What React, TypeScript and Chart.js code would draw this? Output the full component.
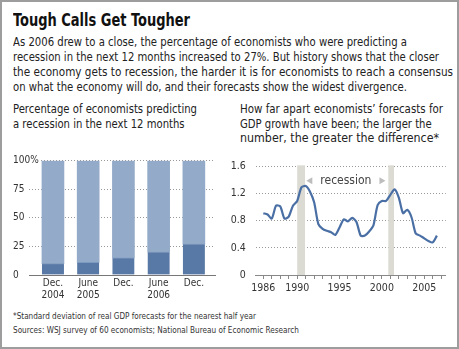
import React, { useEffect, useLayoutEffect, useRef } from 'react';
import { Chart, registerables } from 'chart.js';

Chart.register(...registerables);

const FONT = "'Liberation Sans Narrow', 'DejaVu Sans Condensed', Roboto, 'Liberation Sans', sans-serif";

// ---- Left chart data ----
const barLabels: (string | string[])[] = [['Dec.', '2004'], ['June', '2005'], 'Dec.', ['June', '2006'], 'Dec.'];
const predictingRecession = [10, 11, 15, 20, 27];
const notPredicting = [90, 89, 85, 80, 73];
const barYTickLabels = ['0', '25', '50', '75', '100%'];

// ---- Right chart data ----
const gdpDates = [
  1986, 1986.5, 1987, 1987.5, 1988, 1988.5, 1989, 1989.5, 1990, 1990.5,
  1991, 1991.5, 1992, 1992.5, 1993, 1993.5, 1994, 1994.5, 1995, 1995.5,
  1996, 1996.5, 1997, 1997.5, 1998, 1998.5, 1999, 1999.5, 2000, 2000.5,
  2001, 2001.5, 2002, 2002.5, 2003, 2003.5, 2004, 2004.5, 2005, 2005.5,
  2006, 2006.5,
];
const gdpDispersion = [
  0.91, 0.89, 0.83, 1.02, 1.01, 0.83, 0.86, 1.02, 1.09, 1.29,
  1.31, 1.23, 1.07, 0.75, 0.68, 0.65, 0.63, 0.59, 0.70, 0.82,
  0.79, 0.84, 0.78, 0.58, 0.58, 0.64, 0.73, 1.03, 1.09, 1.09,
  1.18, 1.26, 1.14, 0.91, 0.96, 0.85, 0.61, 0.58, 0.54, 0.50,
  0.48, 0.58,
];
const lineYTickLabels = ['0', '0.4', '0.8', '1.2', '1.6'];
const labeledYears = [1986, 1990, 1995, 2000, 2005];
const recessionStarts = [1990.0, 2000.76];
const recessionEnds = [1990.92, 2001.43];
const recessionLabel = 'recession';
const recessionLabelYear = 1995.75;

const titleText = 'Tough Calls Get Tougher';
const bodyLines = [
  'As 2006 drew to a close, the percentage of economists who were predicting a',
  'recession in the next 12 months increased to 27%. But history shows that the closer',
  'the economy gets to recession, the harder it is for economists to reach a consensus',
  'on what the economy will do, and their forecasts show the widest divergence.',
];
const leftSubtitle = ['Percentage of economists predicting', 'a recession in the next 12 months'];
const rightSubtitle = [
  'How far apart economists\u2019 forecasts for',
  'GDP growth have been; the larger the',
  'number, the greater the difference*',
];
const footLines = [
  '*Standard deviation of real GDP forecasts for the nearest half year',
  'Sources: WSJ survey of 60 economists; National Bureau of Economic Research',
];

type FitProps = {
  text: string; x: number; y: number; width: number; size: number;
  lh: number; weight?: number | string; color?: string; family?: string;
};

function FitText({ text, x, y, width, size, lh, weight = 400, color = '#222', family = FONT }: FitProps) {
  const ref = useRef<HTMLSpanElement>(null);
  useLayoutEffect(() => {
    const fit = () => {
      const el = ref.current;
      if (!el) return;
      el.style.transform = 'none';
      const w = el.getBoundingClientRect().width;
      if (w > 0) el.style.transform = `scaleX(${width / w})`;
    };
    fit();
    if ((document as any).fonts && (document as any).fonts.ready) {
      (document as any).fonts.ready.then(fit);
    }
  }, [text, width]);
  return (
    <span
      ref={ref}
      style={{
        position: 'absolute', left: x, top: y, whiteSpace: 'nowrap',
        transformOrigin: '0 0', fontFamily: family, fontSize: size,
        fontWeight: weight as any, lineHeight: `${lh}px`, color, display: 'inline-block',
      }}
    >
      {text}
    </span>
  );
}

function BarChart() {
  const ref = useRef<HTMLCanvasElement>(null);
  useEffect(() => {
    if (!ref.current) return;
    const chart = new Chart(ref.current, {
      type: 'bar',
      data: {
        datasets: [
          {
            data: predictingRecession.map((v, i) => ({ x: i, y: v })),
            backgroundColor: '#5878a5',
            borderColor: '#7e99be',
            borderWidth: { top: 1, right: 0, bottom: 0, left: 0 },
            borderSkipped: false,
            barThickness: 22,
          },
          {
            data: notPredicting.map((v, i) => ({ x: i, y: v })),
            backgroundColor: '#93aac8',
            borderWidth: 0,
            barThickness: 22,
          },
        ],
      },
      options: {
        responsive: false,
        animation: false,
        events: [],
        layout: { padding: { left: 13, right: 15, top: 10.7, bottom: 0 } },
        plugins: { legend: { display: false }, tooltip: { enabled: false } },
        scales: {
          x: {
            type: 'linear',
            offset: false,
            stacked: true,
            min: -0.68,
            max: 4.6,
            afterBuildTicks: (s: any) => { s.ticks = barLabels.map((_, i) => ({ value: i })); },
            afterFit: (s: any) => { s.height = 35; s.paddingLeft = 0; s.paddingRight = 0; },
            grid: { display: false, drawTicks: false, offset: false },
            border: { display: true, color: '#777', width: 1 },
            ticks: {
              autoSkip: false, maxRotation: 0, padding: 3, color: '#333',
              font: { family: FONT, size: 10, lineHeight: 1.15 },
              callback: (v: any) => barLabels[Number(v)] as any,
            },
          },
          y: {
            stacked: true,
            min: 0,
            max: 100,
            afterFit: (s: any) => { s.width = 16; },
            grid: {
              drawTicks: false,
              color: (ctx: any) => (ctx.tick && ctx.tick.value === 0 ? 'rgba(0,0,0,0)' : '#999'),
            },
            border: { display: false, dash: [1, 2] },
            ticks: {
              stepSize: 25, mirror: true, padding: -16, color: '#333',
              showLabelBackdrop: true, backdropColor: '#ffffff',
              backdropPadding: { left: 0, right: 1, top: 0, bottom: 0 },
              font: { family: FONT, size: 10 },
              callback: (_v: any, i: number) => barYTickLabels[i],
            },
          },
        },
      } as any,
    });
    return () => chart.destroy();
  }, []);
  return <canvas ref={ref} width={230} height={160} style={{ position: 'absolute', left: 0, top: 150 }} />;
}

const recessionPlugin = {
  id: 'recessionBands',
  beforeDatasetsDraw(chart: any) {
    const { ctx, chartArea, scales } = chart;
    const xs = scales.x;
    ctx.save();
    ctx.fillStyle = '#dcdbd3';
    recessionStarts.forEach((s, i) => {
      const x1 = xs.getPixelForValue(s);
      const x2 = xs.getPixelForValue(recessionEnds[i]);
      ctx.fillRect(x1, chartArea.top - 1, x2 - x1, chartArea.bottom - chartArea.top + 1);
    });
    const cx = xs.getPixelForValue(recessionLabelYear);
    const cy = chartArea.top + 14.5;
    ctx.font = `12px ${FONT}`;
    ctx.fillStyle = '#444';
    ctx.textAlign = 'center';
    ctx.textBaseline = 'middle';
    ctx.fillText(recessionLabel, cx, cy);
    const w = ctx.measureText(recessionLabel).width;
    ctx.fillStyle = '#bdbdbd';
    const gap = 8;
    const tw = 6;
    const th = 3.5;
    const lx = cx - w / 2 - gap;
    ctx.beginPath();
    ctx.moveTo(lx, cy - th);
    ctx.lineTo(lx, cy + th);
    ctx.lineTo(lx - tw, cy);
    ctx.closePath();
    ctx.fill();
    const rx = cx + w / 2 + gap;
    ctx.beginPath();
    ctx.moveTo(rx, cy - th);
    ctx.lineTo(rx, cy + th);
    ctx.lineTo(rx + tw, cy);
    ctx.closePath();
    ctx.fill();
    ctx.restore();
  },
};

function LineChart() {
  const ref = useRef<HTMLCanvasElement>(null);
  useEffect(() => {
    if (!ref.current) return;
    const chart = new Chart(ref.current, {
      type: 'line',
      data: {
        datasets: [
          {
            data: gdpDates.map((d, i) => ({ x: d, y: gdpDispersion[i] })),
            borderColor: '#4a6fa5',
            borderWidth: 2.2,
            pointRadius: 0,
            tension: 0.25,
            fill: false,
          },
        ],
      },
      options: {
        responsive: false,
        animation: false,
        events: [],
        layout: { padding: { left: 0, right: 13.2, top: 10.7, bottom: 0 } },
        plugins: { legend: { display: false }, tooltip: { enabled: false } },
        scales: {
          x: {
            type: 'linear',
            min: 1985.1,
            max: 2007.55,
            afterFit: (s: any) => { s.height = 25; s.paddingLeft = 0; s.paddingRight = 0; },
            grid: { display: true, drawOnChartArea: false, drawTicks: true, tickLength: 4, color: '#888' },
            border: { display: true, color: '#888', width: 1 },
            ticks: {
              stepSize: 1, includeBounds: false, autoSkip: false, maxRotation: 0,
              padding: 3, color: '#333',
              font: { family: FONT, size: 10.5 },
              callback: (v: any) => (labeledYears.includes(Number(v)) ? String(v) : ''),
            },
          },
          y: {
            min: 0,
            max: 1.6,
            afterFit: (s: any) => { s.width = 25.7; },
            grid: {
              drawTicks: false,
              color: (ctx: any) => (ctx.tick && ctx.tick.value === 0 ? 'rgba(0,0,0,0)' : '#999'),
            },
            border: { display: false, dash: [1, 2] },
            ticks: {
              stepSize: 0.4, padding: 10, color: '#333',
              font: { family: FONT, size: 10.5 },
              callback: (_v: any, i: number) => lineYTickLabels[i],
            },
          },
        },
      } as any,
      plugins: [recessionPlugin],
    });
    return () => chart.destroy();
  }, []);
  return <canvas ref={ref} width={229} height={150} style={{ position: 'absolute', left: 230, top: 150 }} />;
}

export default function App() {
  const bodyWidths = [394, 426, 440, 394];
  const leftSubWidths = [184, 171.6];
  const rightSubWidths = [203, 191.7, 199];
  const footWidths = [243, 286];
  return (
    <div
      style={{
        position: 'absolute', left: 0, top: 0, width: 459, height: 349,
        boxSizing: 'border-box', border: '2px solid #9d9d9d', background: '#fff', overflow: 'hidden',
      }}
    >
      <div style={{ position: 'absolute', left: -2, top: -2, width: 459, height: 349 }}>
        <FitText text={titleText} x={13} y={11} width={177} size={17} lh={19} weight={700} color="#111" />
        {bodyLines.map((t, i) => (
          <FitText key={'b' + i} text={t} x={13} y={34 + i * 15} width={bodyWidths[i]} size={13} lh={15} />
        ))}
        {leftSubtitle.map((t, i) => (
          <FitText key={'l' + i} text={t} x={13} y={101 + i * 14.5} width={leftSubWidths[i]} size={13} lh={15} />
        ))}
        {rightSubtitle.map((t, i) => (
          <FitText key={'r' + i} text={t} x={240} y={101 + i * 14.5} width={rightSubWidths[i]} size={13} lh={15} />
        ))}
        <BarChart />
        <LineChart />
        {footLines.map((t, i) => (
          <FitText key={'f' + i} text={t} x={13} y={310 + i * 14} width={footWidths[i]} size={9.5} lh={12} color="#333" />
        ))}
      </div>
    </div>
  );
}
